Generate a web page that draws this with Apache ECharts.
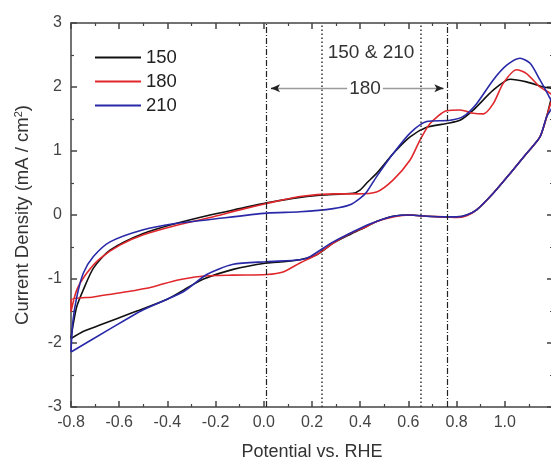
<!DOCTYPE html>
<html><head><meta charset="utf-8">
<script src="https://cdn.jsdelivr.net/npm/echarts@6/dist/echarts.min.js"></script>
<style>html,body{margin:0;padding:0;background:#fff}#c{width:551px;height:466px}</style>
</head><body><div id="c"></div>
<script>
const seriesNames = ['150', '180', '210'];
const seriesColors = ['#111111', '#e0282c', '#2828a8'];
const curve150 = [
[-0.8,-1.93],[-0.79,-1.69],[-0.776,-1.43],[-0.749,-1.17],[-0.707,-0.83],[-0.638,-0.55],[-0.5,-0.29],[-0.361,-0.13],[-0.223,0.0],[-0.1,0.1],[0.012,0.19],[0.12,0.26],[0.233,0.31],[0.37,0.34],[0.399,0.39],[0.427,0.5],[0.468,0.65],[0.537,0.96],[0.607,1.22],[0.676,1.37],[0.759,1.43],[0.814,1.48],[0.869,1.64],[0.952,1.95],[1.022,2.12],[1.09,2.08],[1.16,2.0],[1.2,1.97],
[1.2,1.95],[1.188,1.75],[1.174,1.54],[1.146,1.22],[1.09,0.96],[1.022,0.65],[0.952,0.34],[0.883,0.08],[0.842,0.0],[0.80,-0.03],[0.759,-0.03],[0.676,-0.02],[0.607,0.0],[0.537,-0.02],[0.468,-0.1],[0.427,-0.18],[0.36,-0.3],[0.288,-0.44],[0.22,-0.62],[0.15,-0.70],[0.08,-0.73],[0.012,-0.75],[-0.127,-0.85],[-0.25,-1.0],[-0.3,-1.1],[-0.403,-1.32],[-0.541,-1.52],[-0.68,-1.72],[-0.75,-1.82],[-0.8,-1.93]];
const curve180 = [
[-0.8,-1.51],[-0.776,-1.17],[-0.735,-0.91],[-0.68,-0.68],[-0.597,-0.47],[-0.5,-0.31],[-0.361,-0.16],[-0.223,-0.04],[-0.1,0.08],[0.012,0.18],[0.15,0.29],[0.288,0.33],[0.385,0.33],[0.468,0.36],[0.537,0.55],[0.607,0.86],[0.648,1.17],[0.69,1.43],[0.759,1.63],[0.814,1.64],[0.869,1.59],[0.911,1.58],[0.952,1.74],[0.994,2.06],[1.049,2.27],[1.09,2.21],[1.146,2.0],[1.2,1.85],
[1.188,1.72],[1.174,1.54],[1.146,1.22],[1.09,0.96],[1.022,0.65],[0.952,0.34],[0.883,0.08],[0.842,-0.01],[0.80,-0.04],[0.759,-0.03],[0.676,-0.02],[0.607,0.0],[0.537,-0.03],[0.468,-0.1],[0.427,-0.18],[0.358,-0.29],[0.288,-0.44],[0.22,-0.62],[0.15,-0.75],[0.08,-0.89],[0.012,-0.93],[-0.127,-0.94],[-0.265,-0.96],[-0.361,-1.02],[-0.458,-1.12],[-0.569,-1.2],[-0.707,-1.28],[-0.8,-1.33],[-0.8,-1.51]];
const curve210 = [
[-0.8,-2.14],[-0.793,-1.69],[-0.776,-1.28],[-0.749,-0.91],[-0.707,-0.65],[-0.638,-0.42],[-0.5,-0.23],[-0.361,-0.13],[-0.223,-0.07],[0.012,0.03],[0.15,0.05],[0.288,0.10],[0.358,0.16],[0.399,0.26],[0.427,0.36],[0.468,0.6],[0.537,0.96],[0.607,1.28],[0.676,1.46],[0.773,1.48],[0.828,1.54],[0.883,1.74],[0.952,2.11],[1.008,2.34],[1.063,2.45],[1.105,2.37],[1.146,2.11],[1.188,1.82],[1.2,1.72],
[1.174,1.54],[1.146,1.22],[1.09,0.96],[1.022,0.65],[0.952,0.34],[0.883,0.08],[0.842,0.0],[0.80,-0.03],[0.759,-0.03],[0.676,-0.02],[0.607,0.0],[0.537,-0.02],[0.468,-0.1],[0.427,-0.16],[0.288,-0.42],[0.192,-0.65],[0.15,-0.70],[0.012,-0.73],[-0.127,-0.77],[-0.237,-0.93],[-0.334,-1.2],[-0.5,-1.48],[-0.638,-1.78],[-0.8,-2.14]];
const curves = [curve150, curve180, curve210];
const dashDotLines = [0.01, 0.76];
const dottedLines = [0.24, 0.65];
const arrowRange = [0.03, 0.745];
const arrowY = 1.98;
const arrowLabel = {text: '180', x: 0.42, y: 1.98};
const topNote = {text: '150 & 210', x: 0.445, y: 2.53};
const xRange = [-0.8, 1.2];
const yRange = [-3, 3];

const font = 'Arial, "Liberation Sans", sans-serif';
const axisCol = '#444';
const chart = echarts.init(document.getElementById('c'), null, {renderer: 'canvas'});
const baseX = {
  type: 'value', min: xRange[0], max: xRange[1], interval: 0.2,
  axisLine: {show: true, onZero: false, lineStyle: {color: axisCol, width: 1.5}},
  axisTick: {show: true, inside: true, length: 6, lineStyle: {color: axisCol, width: 1.5}},
  minorTick: {show: true, splitNumber: 2, length: 3, lineStyle: {color: axisCol, width: 1.2}},
  splitLine: {show: false}
};
const baseY = {
  type: 'value', min: yRange[0], max: yRange[1], interval: 1,
  axisLine: {show: true, onZero: false, lineStyle: {color: axisCol, width: 1.5}},
  axisTick: {show: true, inside: true, length: 6, lineStyle: {color: axisCol, width: 1.5}},
  minorTick: {show: true, splitNumber: 2, length: 3, lineStyle: {color: axisCol, width: 1.2}},
  splitLine: {show: false}
};
const series = curves.map((d, i) => ({
  name: seriesNames[i], type: 'line', data: d, symbol: 'none', smooth: 0.25,
  lineStyle: {color: seriesColors[i], width: 1.6}, itemStyle: {color: seriesColors[i]}, z: 3
}));
const vLines = [];
dashDotLines.forEach(v => vLines.push({xAxis: v, lineStyle: {type: [6, 2, 1, 2], color: '#222', width: 1.2}}));
dottedLines.forEach(v => vLines.push({xAxis: v, lineStyle: {type: [1.5, 2.5], color: '#333', width: 1.5}}));
const grayArrow = [
  {coord: [arrowRange[0], arrowY], symbol: 'none', lineStyle: {type: 'solid', color: '#9a9a9a', width: 1.3}},
  {coord: [arrowRange[1], arrowY], symbol: 'none'}
];
const headL = [
  {coord: [arrowRange[0] + 0.02, arrowY], symbol: 'none', lineStyle: {type: 'solid', color: '#222', width: 1.3}},
  {coord: [arrowRange[0], arrowY], symbol: 'arrow', symbolSize: [6, 9]}
];
const headR = [
  {coord: [arrowRange[1] - 0.02, arrowY], symbol: 'none', lineStyle: {type: 'solid', color: '#222', width: 1.3}},
  {coord: [arrowRange[1], arrowY], symbol: 'arrow', symbolSize: [6, 9]}
];
series.push({
  type: 'line', data: [], silent: true,
  markLine: {
    silent: true, symbol: ['none', 'none'], animation: false,
    label: {show: false},
    data: vLines.concat([grayArrow, headL, headR])
  },
  markPoint: {
    silent: true, symbol: 'circle', symbolSize: 0, animation: false, z: 10,
    data: [
      {coord: [topNote.x, topNote.y], label: {show: true, formatter: topNote.text, color: '#333', fontSize: 19, fontFamily: font, position: 'inside'}},
      {coord: [arrowLabel.x, arrowLabel.y], label: {show: true, formatter: arrowLabel.text, color: '#333', fontSize: 19, fontFamily: font, position: 'inside', backgroundColor: '#fff', padding: [0, 2]}}
    ]
  }
});
chart.setOption({
  animation: false,
  backgroundColor: '#fff',
  grid: {left: 71, right: -2, top: 23, bottom: 59, outerBoundsMode: 'none'},
  legend: {
    left: 90, top: 43, orient: 'vertical', itemWidth: 46, itemHeight: 2, itemGap: 5,
    data: seriesNames, icon: 'path://M0,0H46V2H0Z',
    textStyle: {fontSize: 18.5, lineHeight: 18, fontFamily: font, color: '#222'},
    itemStyle: {borderWidth: 0}
  },
  xAxis: [
    Object.assign({}, baseX, {position: 'bottom', name: 'Potential vs. RHE', nameLocation: 'middle', nameGap: 36,
      nameTextStyle: {fontSize: 18, fontFamily: font, color: '#333'},
      axisLabel: {fontSize: 16, fontFamily: font, color: '#444', margin: 8,
        formatter: v => (v > 1.1 ? '' : v.toFixed(1))}}),
    Object.assign({}, baseX, {position: 'top', axisLabel: {show: false}})
  ],
  yAxis: [
    Object.assign({}, baseY, {position: 'left', name: 'Current Density (mA / cm{s|2})', nameLocation: 'middle', nameGap: 38,
      nameTextStyle: {fontSize: 18.5, fontFamily: font, color: '#333', rich: {s: {fontSize: 11, verticalAlign: 'top', padding: [0, 0, 9, 0], fontFamily: font, color: '#333'}}},
      axisLabel: {fontSize: 16, fontFamily: font, color: '#444', margin: 9}}),
    Object.assign({}, baseY, {position: 'right', axisLabel: {show: false}})
  ],
  series: series
});
</script></body></html>
